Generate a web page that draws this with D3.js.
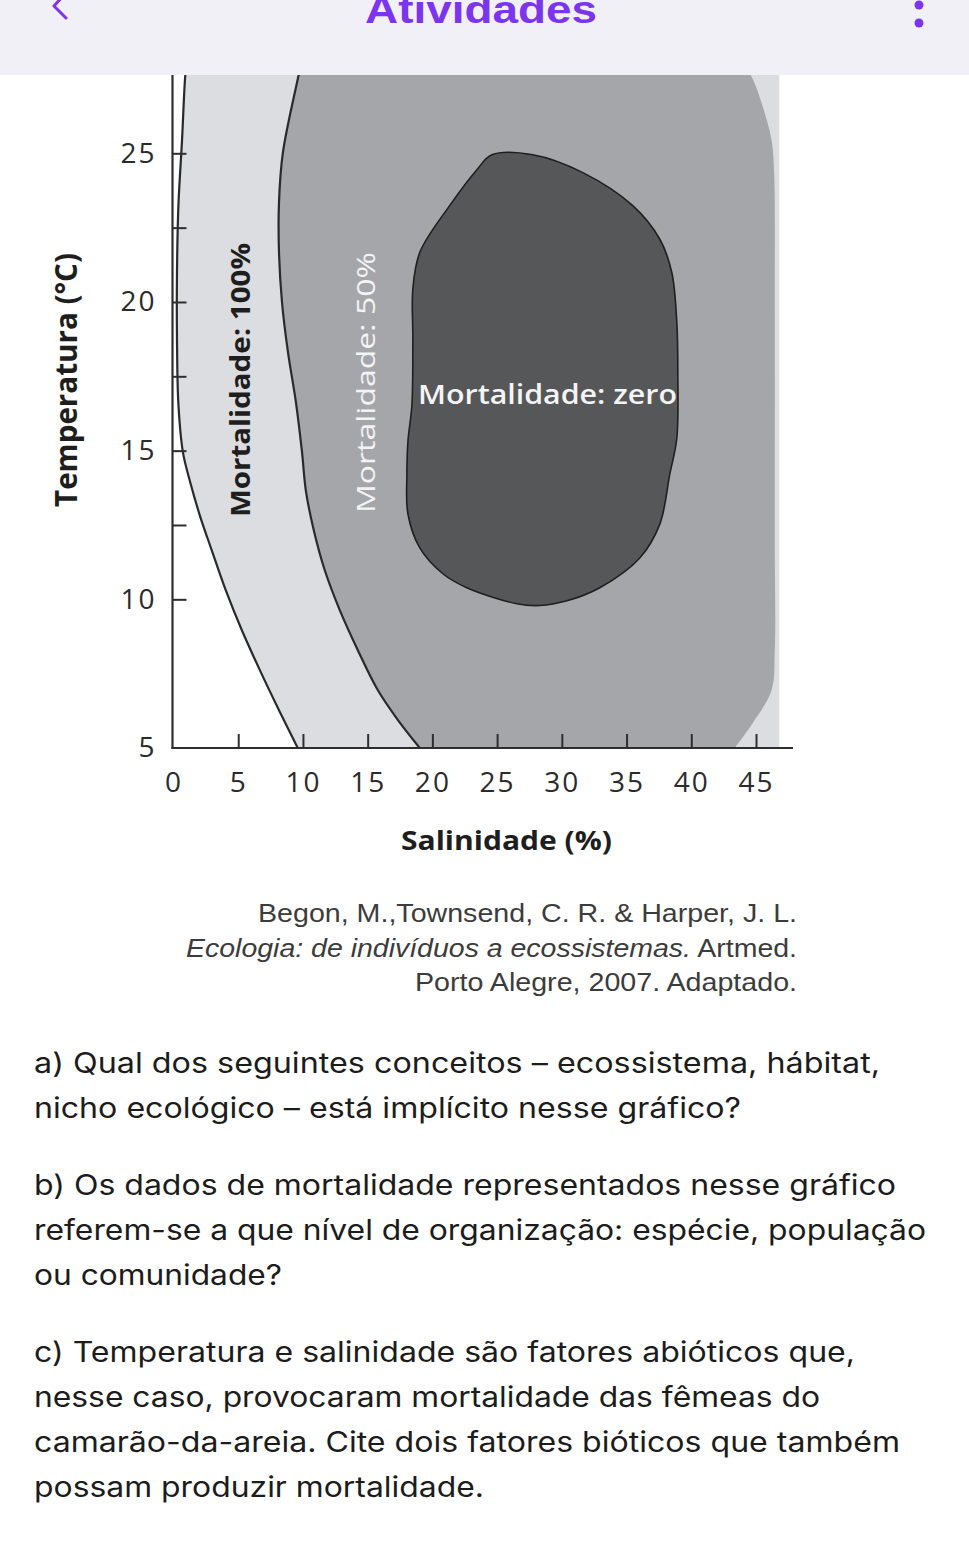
<!DOCTYPE html>
<html><head><meta charset="utf-8">
<script src="https://cdn.jsdelivr.net/npm/d3@7"></script>
<style>body{margin:0;background:#fff}svg{display:block}</style>
</head><body>
<script>
// ---------- DATA ----------
const salinityTicks = [0, 5, 10, 15, 20, 25, 30, 35, 40, 45];
const temperatureTicks = [5, 10, 15, 20, 25];
const temperatureMinorTicks = [12.5, 17.5, 22.5];

// [salinity %, temperature °C] — boundary of 100% mortality zone (top → bottom)
const boundary100 = [
  [1.1, 28.5], [0.89, 27.5], [0.66, 25.45], [0.38, 23.25], [0.27, 21.0],
  [0.27, 18.76], [0.38, 16.55], [0.73, 14.94], [1.27, 13.97], [2.05, 12.8],
  [2.97, 11.63], [4.05, 10.29], [5.29, 8.95], [6.68, 7.61], [8.15, 6.27], [9.6, 5.0]
];
// boundary between 100% and 50% mortality (top → bottom)
const boundary50 = [
  [10.1, 28.5], [9.6, 27.5], [8.45, 25.02], [8.15, 23.35], [8.15, 21.67],
  [8.38, 20.0], [8.84, 18.32], [9.45, 16.65], [9.92, 14.98], [10.23, 13.64],
  [10.85, 12.3], [11.7, 10.96], [12.86, 9.62], [14.25, 8.28], [15.79, 6.94],
  [17.34, 5.94], [19.03, 5.0]
];
// outer (right) edge of the 50% zone (bottom → top)
const zone50Outer = [
  [43.36, 5.0], [44.75, 5.84], [46.2, 6.94], [46.45, 8.3], [46.45, 12],
  [46.45, 20], [46.4, 24.35], [46.2, 25.45], [45.5, 26.6], [44.75, 27.5], [43.6, 28.4]
];
const lightZoneEdge = 46.8;
const plotTop = 28.6;
// zero-mortality zone (closed)
const zoneZero = [
  [24.6, 24.95], [27.76, 24.95], [31.62, 24.35], [35.48, 23.24], [37.57, 22.11],
  [38.49, 21.0], [38.88, 19.33], [38.96, 17.66], [38.88, 15.41], [38.34, 14.21],
  [37.57, 12.53], [36.02, 11.39], [32.93, 10.39], [30.39, 9.95], [28.31, 9.79],
  [26.53, 9.85], [22.66, 10.39], [20.81, 10.86], [19.03, 11.73], [18.11, 12.87],
  [18.03, 14.21], [18.11, 15.31], [18.42, 16.55], [18.49, 18.76], [18.49, 20.43],
  [19.03, 21.67], [21.35, 23.25], [23.44, 24.45]
];

const zoneLabels = ["Mortalidade: 100%", "Mortalidade: 50%", "Mortalidade: zero"];
const xTitle = "Salinidade (%)";
const yTitle = "Temperatura (°C)";
const headerTitle = "Atividades";
const citation = [
  [{t: "Begon, M.,Townsend, C. R. & Harper, J. L."}],
  [{t: "Ecologia: de indivíduos a ecossistemas.", i: true}, {t: " Artmed."}],
  [{t: "Porto Alegre, 2007. Adaptado."}]
];
const questions = [
  "a) Qual dos seguintes conceitos – ecossistema, hábitat,",
  "nicho ecológico – está implícito nesse gráfico?",
  "b) Os dados de mortalidade representados nesse gráfico",
  "referem-se a que nível de organização: espécie, população",
  "ou comunidade?",
  "c) Temperatura e salinidade são fatores abióticos que,",
  "nesse caso, provocaram mortalidade das fêmeas do",
  "camarão-da-areia. Cite dois fatores bióticos que também",
  "possam produzir mortalidade."
];

// ---------- LAYOUT ----------
const W = 969, H = 1546;
const svg = d3.select("body").append("svg").attr("width", W).attr("height", H);
svg.append("rect").attr("width", W).attr("height", H).attr("fill", "#fff");

const x = d3.scaleLinear().domain([0, 45]).range([173.5, 756]);
const y = d3.scaleLinear().domain([5, 25]).range([748, 153.3]);

const smooth = d3.line().x(d => x(d[0])).y(d => y(d[1])).curve(d3.curveCatmullRom);
const smoothClosed = d3.line().x(d => x(d[0])).y(d => y(d[1])).curve(d3.curveCatmullRomClosed);
const toL = p => "L" + p.slice(1);

const g = svg.append("g");

// light zone (100% mortality)
g.append("path")
  .attr("d", smooth(boundary100) +
    `L${x(lightZoneEdge)},${y(5)}L${x(lightZoneEdge)},${y(plotTop)}Z`)
  .attr("fill", "#dcdde0");

// medium zone (50%)
g.append("path")
  .attr("d", smooth(boundary50) + toL(smooth(zone50Outer)) + "Z")
  .attr("fill", "#a5a6aa");

// boundary strokes
[boundary100, boundary50].forEach(b => {
  g.append("path").attr("d", smooth(b)).attr("fill", "none")
    .attr("stroke", "#2a2a2a").attr("stroke-width", 2.2);
});

// zero zone
g.append("path").attr("d", smoothClosed(zoneZero))
  .attr("fill", "#555759").attr("stroke", "#1f1f1f").attr("stroke-width", 1.6);

// zone labels
const labelFont = "'Open Sans', 'DejaVu Sans', sans-serif";
g.append("text").text(zoneLabels[0])
  .attr("transform", "translate(250,517) rotate(-90)")
  .attr("font-family", labelFont).attr("font-weight", 700).attr("font-size", 26)
  .attr("fill", "#1e1e1e").attr("textLength", 274).attr("lengthAdjust", "spacingAndGlyphs");
g.append("text").text(zoneLabels[1])
  .attr("transform", "translate(375,513) rotate(-90)")
  .attr("font-family", labelFont).attr("font-weight", 500).attr("font-size", 26)
  .attr("fill", "#f4f4f4").attr("textLength", 261).attr("lengthAdjust", "spacingAndGlyphs");
g.append("text").text(zoneLabels[2])
  .attr("x", 418).attr("y", 404)
  .attr("font-family", labelFont).attr("font-weight", 600).attr("font-size", 27)
  .attr("fill", "#f4f4f4").attr("textLength", 259).attr("lengthAdjust", "spacingAndGlyphs");

// axes
const axisColor = "#2e2e2e";
const tickFont = "'Open Sans', 'DejaVu Sans', sans-serif";
const axX = 172.5;
g.append("line").attr("x1", axX).attr("x2", axX).attr("y1", y(5) + 1).attr("y2", y(plotTop))
  .attr("stroke", axisColor).attr("stroke-width", 2.2);
g.append("line").attr("x1", axX - 1).attr("x2", 793).attr("y1", y(5)).attr("y2", y(5))
  .attr("stroke", axisColor).attr("stroke-width", 2.2);

const yAxis = g.append("g").attr("transform", `translate(${axX},0)`)
  .call(d3.axisLeft(y).tickValues(temperatureTicks).tickSize(-14).tickPadding(16).tickFormat(d3.format("d")));
const yMinor = g.append("g").attr("transform", `translate(${axX},0)`)
  .call(d3.axisLeft(y).tickValues(temperatureMinorTicks).tickSize(-14).tickFormat(""));
const xAxis = g.append("g").attr("transform", `translate(0,${y(5)})`)
  .call(d3.axisBottom(x).tickValues(salinityTicks).tickSize(-14).tickPadding(24).tickFormat(d3.format("d")));
[yAxis, yMinor, xAxis].forEach(a => {
  a.select(".domain").remove();
  a.selectAll(".tick line").attr("stroke", axisColor).attr("stroke-width", 2);
  a.selectAll(".tick text").attr("font-family", tickFont).attr("font-size", 28)
    .attr("fill", "#2b2b2b").attr("letter-spacing", 2);
});
xAxis.selectAll(".tick").filter(d => d === 0).select("line").remove();
yAxis.selectAll(".tick").filter(d => d === 5).select("line").remove();

// axis titles
g.append("text").text(yTitle)
  .attr("transform", "translate(77,507) rotate(-90)")
  .attr("font-family", labelFont).attr("font-weight", 700).attr("font-size", 30)
  .attr("fill", "#1e1e1e").attr("textLength", 254).attr("lengthAdjust", "spacingAndGlyphs");
g.append("text").text(xTitle)
  .attr("x", 401).attr("y", 850)
  .attr("font-family", labelFont).attr("font-weight", 700).attr("font-size", 27)
  .attr("fill", "#1e1e1e").attr("textLength", 211).attr("lengthAdjust", "spacingAndGlyphs");

// citation
const citeFont = "'Liberation Sans', Arial, sans-serif";
const citeLayout = [[258, 922], [186, 957], [415, 991]];
citation.forEach((parts, i) => {
  const t = svg.append("text").attr("x", citeLayout[i][0]).attr("y", citeLayout[i][1])
    .attr("font-family", citeFont).attr("font-size", 26).attr("fill", "#3c3c3c")
    .attr("textLength", 797 - citeLayout[i][0]).attr("lengthAdjust", "spacingAndGlyphs");
  parts.forEach(p => t.append("tspan").text(p.t).attr("font-style", p.i ? "italic" : "normal"));
});

// questions
const qFont = "Inter, 'Open Sans', sans-serif";
const qBase = [1073, 1118, 1195, 1240, 1285, 1362, 1407, 1452, 1497];
const qRight = [880, 741, 896, 926, 282, 855, 820, 900, 484];
questions.forEach((q, i) => {
  svg.append("text").text(q).attr("x", 34).attr("y", qBase[i])
    .attr("font-family", qFont).attr("font-size", 28).attr("fill", "#1c1c1c")
    .attr("textLength", qRight[i] - 34).attr("lengthAdjust", "spacingAndGlyphs");
});

// header (overlays chart top)
const purple = "#7b35ee";
svg.append("rect").attr("width", W).attr("height", 75).attr("fill", "#f2f0f7");
svg.append("text").text(headerTitle).attr("x", 365).attr("y", 23)
  .attr("font-family", "'Liberation Sans', Arial, sans-serif").attr("font-weight", 700)
  .attr("font-size", 38).attr("fill", purple)
  .attr("textLength", 232).attr("lengthAdjust", "spacingAndGlyphs");
svg.append("path").attr("d", "M63,-4 L54,6 L66,18").attr("fill", "none")
  .attr("stroke", purple).attr("stroke-width", 3).attr("stroke-linecap", "round").attr("stroke-linejoin", "round");
svg.append("circle").attr("cx", 919).attr("cy", 5).attr("r", 4.5).attr("fill", purple);
svg.append("circle").attr("cx", 919).attr("cy", 23).attr("r", 4.5).attr("fill", purple);
</script>
</body></html>
